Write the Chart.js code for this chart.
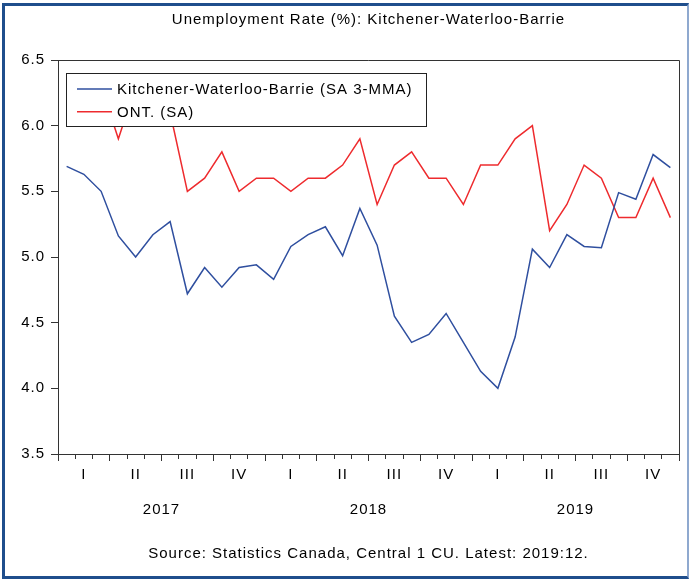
<!DOCTYPE html>
<html>
<head>
<meta charset="utf-8">
<script src="https://cdn.jsdelivr.net/npm/chart.js@4.4.0/dist/chart.umd.min.js"></script>
<style>
body { margin: 0; background: #fff; }
#wrap { position: relative; width: 691px; height: 580px; }
#frame { position: absolute; left: 2px; top: 3px; width: 687px; height: 576px; box-sizing: border-box;
  border: 3px solid #1f4e8c; border-right: 2px solid #8fa9cf; pointer-events: none; }
</style>
</head>
<body>
<div id="wrap">
  <canvas id="chart" width="691" height="580"></canvas>
  <div id="frame"></div>
</div>
<script>
// monthly, Jan 2017 .. Dec 2019
const months = [
  '2017-01','2017-02','2017-03','2017-04','2017-05','2017-06','2017-07','2017-08','2017-09','2017-10','2017-11','2017-12',
  '2018-01','2018-02','2018-03','2018-04','2018-05','2018-06','2018-07','2018-08','2018-09','2018-10','2018-11','2018-12',
  '2019-01','2019-02','2019-03','2019-04','2019-05','2019-06','2019-07','2019-08','2019-09','2019-10','2019-11','2019-12'
];
const kwbRate = [
  5.69, 5.63, 5.50, 5.16, 5.00, 5.17, 5.27, 4.72, 4.92, 4.77, 4.92, 4.94,
  4.83, 5.08, 5.17, 5.23, 5.01, 5.37, 5.09, 4.55, 4.35, 4.41, 4.57, 4.35,
  4.13, 4.00, 4.39, 5.06, 4.92, 5.17, 5.08, 5.07, 5.49, 5.44, 5.78, 5.68
];
const ontRate = [
  6.3, 6.2, 6.3, 5.9, 6.3, 6.2, 6.1, 5.5, 5.6, 5.8, 5.5, 5.6,
  5.6, 5.5, 5.6, 5.6, 5.7, 5.9, 5.4, 5.7, 5.8, 5.6, 5.6, 5.4,
  5.7, 5.7, 5.9, 6.0, 5.2, 5.4, 5.7, 5.6, 5.3, 5.3, 5.6, 5.3
];
const quarterLabels = ['I', 'II', 'III', 'IV'];
const yearLabels = ['2017', '2018', '2019'];
const titleText = 'Unemployment Rate (%): Kitchener-Waterloo-Barrie';
const sourceText = 'Source: Statistics Canada, Central 1 CU. Latest: 2019:12.';

const fontFamily = '"Liberation Sans", Arial, sans-serif';
Chart.defaults.font.family = fontFamily;
Chart.defaults.color = '#000';

// the original text is set a bit loose
const looseText = {
  id: 'looseText',
  beforeDraw(chart) {
    chart.ctx.letterSpacing = '1px';
  }
};

// top and right edge of the plot box
const plotFrame = {
  id: 'plotFrame',
  beforeDatasetsDraw(chart) {
    const a = chart.chartArea, ctx = chart.ctx;
    ctx.save();
    ctx.strokeStyle = '#333';
    ctx.lineWidth = 1;
    ctx.beginPath();
    ctx.moveTo(a.left, Math.round(a.top) + 0.5);
    ctx.lineTo(Math.round(a.right) + 0.5, Math.round(a.top) + 0.5);
    ctx.lineTo(Math.round(a.right) + 0.5, a.bottom);
    ctx.stroke();
    ctx.restore();
  }
};

// legend box drawn over the lines, inside the plot
const boxLegend = {
  id: 'boxLegend',
  afterDatasetsDraw(chart) {
    const a = chart.chartArea, ctx = chart.ctx;
    const x = Math.round(a.left) + 8, y = Math.round(a.top) + 13, w = 360, h = 53;
    ctx.save();
    ctx.fillStyle = '#fff';
    ctx.fillRect(x, y, w, h);
    ctx.strokeStyle = '#222';
    ctx.lineWidth = 1;
    ctx.strokeRect(x + 0.5, y + 0.5, w, h);
    ctx.font = '15px ' + fontFamily;
    ctx.textBaseline = 'middle';
    chart.data.datasets.forEach((ds, i) => {
      const ly = y + 16 + i * 22.7;
      ctx.strokeStyle = ds.borderColor;
      ctx.lineWidth = ds.borderWidth;
      ctx.beginPath();
      ctx.moveTo(x + 11, ly);
      ctx.lineTo(x + 46, ly);
      ctx.stroke();
      ctx.fillStyle = '#000';
      ctx.fillText(ds.label, x + 51, ly + 1);
    });
    ctx.restore();
  }
};

new Chart(document.getElementById('chart'), {
  type: 'line',
  data: {
    labels: months,
    datasets: [{
      label: 'Kitchener-Waterloo-Barrie (SA 3-MMA)',
      data: kwbRate,
      borderColor: '#2f4f9f',
      borderWidth: 1.5,
      pointRadius: 0
    }, {
      label: 'ONT. (SA)',
      data: ontRate,
      borderColor: '#ee2b2e',
      borderWidth: 1.5,
      pointRadius: 0
    }]
  },
  options: {
    responsive: false,
    animation: false,
    events: [],
    layout: { padding: { left: 8, right: 12, top: 0, bottom: 7 } },
    plugins: {
      legend: { display: false },
      tooltip: { enabled: false },
      title: {
        display: true, text: titleText, color: '#000',
        fullSize: false,
        font: { size: 15, weight: 'normal' },
        padding: { top: 11, bottom: 31 }
      },
      subtitle: {
        display: true, position: 'bottom', text: sourceText, color: '#000',
        fullSize: false,
        font: { size: 15, weight: 'normal' },
        padding: { top: 14, bottom: 10 }
      }
    },
    scales: {
      x: {
        offset: true,
        grid: {
          offset: true,
          drawOnChartArea: false,
          tickLength: 7,
          color: '#333',
          tickBorderDash: ctx => (ctx.index === undefined || ctx.index % 3 === 0) ? [] : [4, 20]
        },
        border: { color: '#333' },
        ticks: {
          autoSkip: false, maxRotation: 0, padding: 5,
          font: { size: 15 }, color: '#000',
          callback: (v, i) => i % 3 === 1 ? quarterLabels[Math.floor(i / 3) % 4] : ''
        }
      },
      x2: {
        type: 'category',
        labels: yearLabels,
        offset: true,
        position: 'bottom',
        weight: 1,
        grid: { display: false, drawTicks: false },
        border: { display: false },
        ticks: { padding: 12, font: { size: 15 }, color: '#000', maxRotation: 0 }
      },
      y: {
        min: 3.5,
        max: 6.5,
        grid: { drawOnChartArea: false, tickLength: 7, color: '#333' },
        border: { color: '#333' },
        ticks: {
          stepSize: 0.5, padding: 6,
          font: { size: 15 }, color: '#000',
          callback: v => v.toFixed(1)
        },
        afterFit: s => { s.width = 50; }
      }
    }
  },
  plugins: [looseText, plotFrame, boxLegend]
});
</script>
</body>
</html>
